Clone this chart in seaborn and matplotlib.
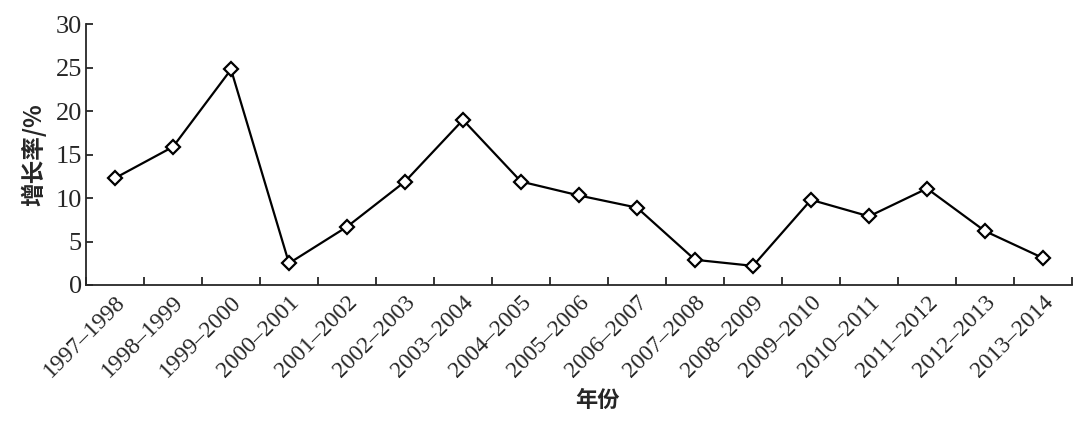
# -*- coding: utf-8 -*-

import matplotlib
matplotlib.use('Agg')
import matplotlib.pyplot as plt
from matplotlib.ticker import FixedLocator, MultipleLocator
import seaborn as sns
import pandas as pd

years = ['1997–1998', '1998–1999', '1999–2000', '2000–2001', '2001–2002',
         '2002–2003', '2003–2004', '2004–2005', '2005–2006', '2006–2007',
         '2007–2008', '2008–2009', '2009–2010', '2010–2011', '2011–2012',
         '2012–2013', '2013–2014']
growth = [12.3, 15.9, 24.8, 2.5, 6.7, 11.9, 19.0, 11.9, 10.3, 8.9,
          2.9, 2.2, 9.8, 7.9, 11.1, 6.2, 3.1]

sns.set_style('ticks')
plt.rcParams['font.family'] = ['Liberation Serif', 'Noto Sans CJK SC']
cjk = ['Noto Sans CJK SC', 'DejaVu Sans']

df = pd.DataFrame({'year': years, 'growth': growth})

fig = plt.figure(figsize=(10.89, 4.29), dpi=100)
ax = fig.add_axes([0.079, 0.3357, 0.9054, 0.6077])

sns.lineplot(data=df, x='year', y='growth', ax=ax, color='black', lw=1.6,
             marker='D', markersize=7, markerfacecolor='white',
             markeredgecolor='black', markeredgewidth=1.6)

n = len(years)
ax.set_xlim(-0.5, n - 0.5)
ax.set_ylim(0, 30)
ax.yaxis.set_major_locator(MultipleLocator(5))

# category ticks: labels on points, tick marks on boundaries
ax.xaxis.set_minor_locator(FixedLocator([i - 0.5 for i in range(n + 1)]))
ax.tick_params(axis='x', which='major', length=0, pad=5)
ax.tick_params(axis='x', which='minor', direction='in', length=6, width=1.3)
ax.tick_params(axis='y', direction='in', length=5, width=1.3, labelsize=19, pad=3)
plt.setp(ax.get_xticklabels(), rotation=45, ha='right', rotation_mode='anchor',
         fontsize=17)

sns.despine(ax=ax)
for s in ['left', 'bottom']:
    ax.spines[s].set_linewidth(1.3)

ax.set_xlabel('年份', family=cjk, fontweight='bold', fontsize=16)
ax.set_ylabel('增长率/%', family=cjk, fontweight='bold', fontsize=17)
ax.xaxis.set_label_coords(0.519, -0.40)
ax.yaxis.set_label_coords(-0.04, 0.5)

fig.savefig('out.png', dpi=100)
